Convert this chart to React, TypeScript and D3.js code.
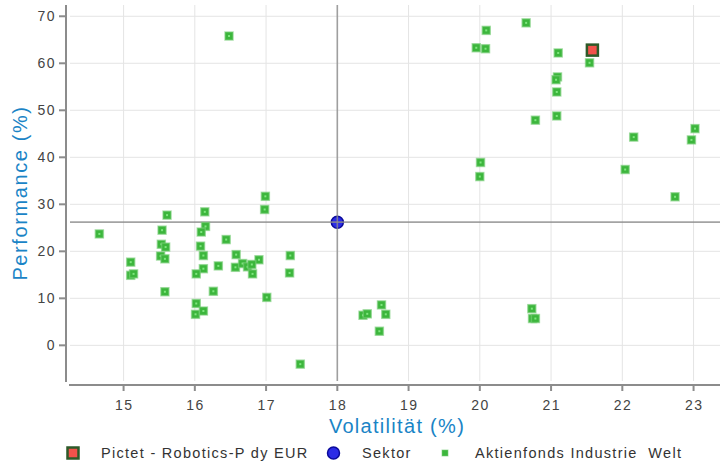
import React from "react";
import * as d3 from "d3";

const peerVol = [
  15.61, 16.14, 14.66, 15.54, 16.15, 16.09, 16.44, 15.53, 15.59, 16.08, 15.52, 15.58, 16.12, 15.1, 16.33, 16.12, 16.02, 15.1, 15.14, 15.58, 16.26, 16.02, 16.01, 16.12,
  16.99, 16.98, 16.58, 16.9, 17.34, 16.57, 16.67, 16.74, 16.8, 16.81, 17.33, 17.01, 17.48, 16.48,
  18.62, 18.36, 18.42, 18.68, 18.59, 20.73, 20.74, 20.78,
  20.09, 20.65, 19.95, 20.08, 21.1, 21.54, 21.09, 21.07, 21.08, 20.78, 21.08, 23.02, 22.16, 22.97, 20.01, 20.0, 22.04, 22.74,
];
const peerPerf = [
  27.7, 28.4, 23.7, 24.5, 25.3, 24.1, 22.5, 21.5, 20.9, 21.1, 19.0, 18.4, 19.1, 17.7, 16.9, 16.3, 15.2, 14.9, 15.2, 11.4, 11.5, 8.9, 6.6, 7.3,
  31.7, 28.9, 19.3, 18.2, 19.1, 16.6, 17.4, 16.7, 17.2, 15.2, 15.4, 10.2, -4.0, 65.8,
  8.6, 6.4, 6.7, 6.6, 3.0, 7.8, 5.7, 5.7,
  67.0, 68.6, 63.3, 63.1, 62.2, 60.1, 57.1, 56.5, 53.9, 47.9, 48.8, 46.1, 44.3, 43.7, 38.9, 35.9, 37.4, 31.6,
];
const fundVol = [21.58];
const fundPerf = [62.8];
const sectorVol = [18.0];
const sectorPerf = [26.2];
const xTicks = [15, 16, 17, 18, 19, 20, 21, 22, 23];
const yTicks = [0, 10, 20, 30, 40, 50, 60, 70];
const legendLabels = ["Pictet - Robotics-P dy EUR", "Sektor", "Aktienfonds Industrie  Welt"];
const xTitle = "Volatilität (%)";
const yTitle = "Performance (%)";

const W = 720;
const H = 463;
const FONT = "'Liberation Sans', Arial, sans-serif";

export default function App() {
  const x = d3.scaleLinear().domain([14.248, 23.371]).range([70, 720]);
  const y = d3.scaleLinear().domain([-7.8, 72.4]).range([382, 5]);
  const top = 5;
  const bottom = 381;
  const left = 70;
  const right = 720;
  const blue = "#1a84c6";

  return (
    <svg width={W} height={H} style={{ position: "absolute", left: 0, top: 0, background: "#fff" }} fontFamily={FONT}>
      {/* grid */}
      {xTicks.map((t) => (
        <line key={"gx" + t} x1={x(t)} x2={x(t)} y1={top} y2={bottom} stroke="#e4e4e4" strokeWidth={1} />
      ))}
      {yTicks.map((t) => (
        <line key={"gy" + t} x1={left} x2={right} y1={y(t)} y2={y(t)} stroke="#e4e4e4" strokeWidth={1} />
      ))}
      {/* axes */}
      <line x1={66} x2={66} y1={top} y2={382} stroke="#8c8c8c" strokeWidth={2} />
      <line x1={69} x2={720} y1={385} y2={385} stroke="#8c8c8c" strokeWidth={2} />
      {yTicks.map((t) => (
        <g key={"ty" + t}>
          <line x1={59} x2={66} y1={y(t)} y2={y(t)} stroke="#8c8c8c" strokeWidth={2} />
          <text x={56} y={y(t) + 5} textAnchor="end" fontSize={14} fill="#444" letterSpacing={1.5}>
            {t}
          </text>
        </g>
      ))}
      {xTicks.map((t) => (
        <g key={"tx" + t}>
          <line x1={x(t)} x2={x(t)} y1={385} y2={391} stroke="#8c8c8c" strokeWidth={2} />
          <text x={x(t) + 0.8} y={410} textAnchor="middle" fontSize={14} fill="#444" letterSpacing={1.5}>
            {t}
          </text>
        </g>
      ))}
      <text x={397} y={433} textAnchor="middle" fontSize={20} fill={blue} letterSpacing={1.3}>
        {xTitle}
      </text>
      <text
        transform={`translate(27,193) rotate(-90)`}
        textAnchor="middle"
        fontSize={20}
        fill={blue}
        letterSpacing={1.6}
      >
        {yTitle}
      </text>

      {/* sector */}
      {sectorVol.map((v, i) => (
        <circle key={"s" + i} cx={x(v)} cy={y(sectorPerf[i])} r={6} fill="#2b2be6" stroke="#0a0a9a" strokeWidth={1.5} />
      ))}
      {/* crosshair */}
      <line x1={x(sectorVol[0])} x2={x(sectorVol[0])} y1={top} y2={bottom} stroke="rgba(140,140,140,0.8)" strokeWidth={1.6} />
      <line x1={left} x2={right} y1={y(sectorPerf[0])} y2={y(sectorPerf[0])} stroke="rgba(140,140,140,0.8)" strokeWidth={1.6} />

      {/* peers */}
      {peerVol.map((v, i) => (
        <g key={"p" + i}>
          <rect x={x(v) - 4} y={y(peerPerf[i]) - 4} width={8} height={8} fill="#3cb63c" stroke="rgba(120,205,120,0.6)" strokeWidth={1.5} />
          <rect x={x(v) - 1} y={y(peerPerf[i]) - 1} width={2} height={2} fill="#7fe67f" />
        </g>
      ))}
      {/* fund */}
      {fundVol.map((v, i) => (
        <rect key={"f" + i} x={x(v) - 5.5} y={y(fundPerf[i]) - 5.5} width={11} height={11} fill="#f2524b" stroke="#2d5a28" strokeWidth={2.5} />
      ))}

      {/* legend */}
      <rect x={67.5} y={447.5} width={11} height={11} fill="#f2524b" stroke="#2d5a28" strokeWidth={2.5} />
      <text x={101} y={458} fontSize={14.5} fill="#333" letterSpacing={1.3}>
        {legendLabels[0]}
      </text>
      <circle cx={333.5} cy={453} r={6} fill="#2b2be6" stroke="#0a0a9a" strokeWidth={1.5} />
      <text x={362} y={458} fontSize={14.5} fill="#333" letterSpacing={1.3}>
        {legendLabels[1]}
      </text>
      <rect x={442} y={450} width={6} height={6} fill="#3cb63c" stroke="rgba(120,205,120,0.6)" strokeWidth={1} />
      <text x={475} y={458} fontSize={14.5} fill="#333" letterSpacing={1.3} style={{ whiteSpace: "pre" }}>
        {legendLabels[2]}
      </text>
    </svg>
  );
}
